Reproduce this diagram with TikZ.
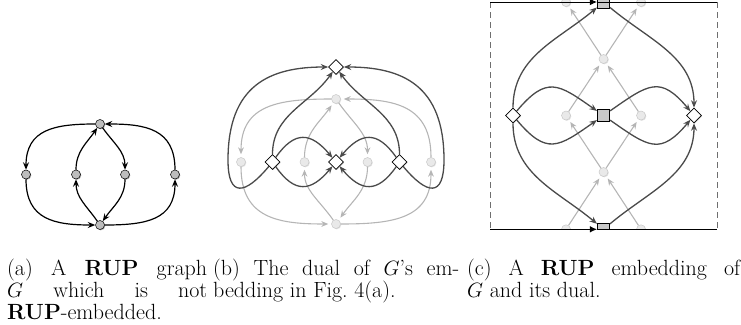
\documentclass[tikz,border=0pt]{standalone}
\usetikzlibrary{arrows.meta,shapes.geometric,shadows}
\definecolor{gcol}{HTML}{B5B5B5}
\definecolor{gfill}{HTML}{E9E9E9}
\definecolor{gbord}{HTML}{C8C8C8}
\definecolor{dcol}{HTML}{4A4A4A}
\definecolor{acol}{HTML}{BDBDBD}
\definecolor{sfill}{HTML}{C9C9C9}
\definecolor{fcol}{HTML}{6E6E6E}
\begin{document}
\begin{tikzpicture}[x=1pt,y=1pt,
  tipA/.style={-{Stealth[length=7.5pt,width=6pt,inset=2.6pt]}},
  aedge/.style={tipA, line width=1.2pt, draw=black},
  gedge/.style={-{Stealth[length=7pt,width=5.8pt,inset=2.4pt]}, line width=1.1pt, draw=gcol, color=gcol, shorten >=3pt},
  dedge/.style={tipA, line width=1.3pt, draw=dcol, color=dcol},
  avert/.style={circle, draw=black, line width=0.5pt, fill=acol, minimum size=9pt, inner sep=0pt,
    drop shadow={shadow xshift=0.8pt, shadow yshift=-0.8pt, opacity=0.35, fill=black}},
  gvert/.style={circle, draw=gbord, line width=0.5pt, fill=gfill, minimum size=9pt, inner sep=0pt,
    drop shadow={shadow xshift=0.8pt, shadow yshift=-0.8pt, opacity=0.12, fill=black}},
  dvert/.style={diamond, draw=black, line width=0.6pt, fill=white, minimum size=15pt, inner sep=0pt,
    drop shadow={shadow xshift=0.7pt, shadow yshift=-0.7pt, opacity=0.2, fill=black}},
  svert/.style={rectangle, draw=black, line width=0.6pt, fill=sfill, minimum size=12.5pt, inner sep=0pt,
    drop shadow={shadow xshift=0.7pt, shadow yshift=-0.7pt, opacity=0.2, fill=black}},
  captext/.style={font=\fontsize{22}{22.2}\selectfont, align=justify, inner sep=0pt, anchor=base west},
  framedash/.style={draw=fcol, line width=0.9pt, dash pattern=on 6pt off 4pt},
  frameline/.style={draw=black, line width=0.9pt}
]
\useasboundingbox (0,0) rectangle (741,-324);

% ---------------- (a) ----------------
\node[avert] (aT)  at (100,-124) {};
\node[avert] (aB)  at (100,-225) {};
\node[avert] (aL)  at (26,-174.5) {};
\node[avert] (aML) at (76,-174.5) {};
\node[avert] (aMR) at (125,-174.5) {};
\node[avert] (aR)  at (175,-174.5) {};
\draw[aedge] (aT) to[out=180,in=90,looseness=1.25] (aL);
\draw[aedge] (aL) to[out=-90,in=180,looseness=1.25] (aB);
\draw[aedge] (aB) to[out=0,in=-90,looseness=1.25] (aR);
\draw[aedge] (aR) to[out=90,in=0,looseness=1.25] (aT);
\draw[aedge] (aML) to[out=90,in=-125] (aT);
\draw[aedge] (aT) to[out=-55,in=90] (aMR);
\draw[aedge] (aMR) to[out=-90,in=55] (aB);
\draw[aedge] (aB) to[out=125,in=-90] (aML);

% ---------------- (b) ----------------
\node[gvert] (bT)  at (336,-99) {};
\node[gvert] (bB)  at (336,-224) {};
\node[gvert] (bL)  at (241,-162) {};
\node[gvert] (bML) at (304.5,-162) {};
\node[gvert] (bMR) at (367.5,-162) {};
\node[gvert] (bR)  at (431,-162) {};
\draw[gedge] (bT) to[out=180,in=90,looseness=1.25] (bL);
\draw[gedge] (bL) to[out=-90,in=180,looseness=1.25] (bB);
\draw[gedge] (bB) to[out=0,in=-90,looseness=1.25] (bR);
\draw[gedge] (bR) to[out=90,in=0,looseness=1.25] (bT);
\draw[gedge] (bML) to[out=90,in=-125] (bT);
\draw[gedge] (bT) to[out=-55,in=90] (bMR);
\draw[gedge] (bMR) to[out=-90,in=55] (bB);
\draw[gedge] (bB) to[out=125,in=-90] (bML);

\node[dvert] (bD0) at (336,-67) {};
\node[dvert] (bDL) at (272.5,-162) {};
\node[dvert] (bDC) at (336,-162) {};
\node[dvert] (bDR) at (399.5,-162) {};
\draw[dedge] (bDL) to[out=90,in=-125] (bD0);
\draw[dedge] (bDR) to[out=90,in=-55] (bD0);
\draw[dedge] (bDL) to[out=55,in=130,looseness=1.5] (bDC);
\draw[dedge] (bDL) to[out=-55,in=-130,looseness=1.5] (bDC);
\draw[dedge] (bDR) to[out=125,in=50,looseness=1.5] (bDC);
\draw[dedge] (bDR) to[out=-125,in=-50,looseness=1.5] (bDC);
\draw[dedge] (bDL) .. controls (245,-195) and (228,-198) .. (228,-160)
                  .. controls (228,-85) and (270,-67) .. (bD0);
\draw[dedge] (bDR) .. controls (427,-195) and (444,-198) .. (444,-160)
                  .. controls (444,-85) and (402,-67) .. (bD0);

% ---------------- (c) ----------------
\begin{scope}
\clip (490,0) rectangle (717,-229.3);
\node[gvert] (cA)  at (603.5,-59) {};
\node[gvert] (cB)  at (603.5,-172) {};
\node[gvert] (cC)  at (566,-115.5) {};
\node[gvert] (cD)  at (641,-115.5) {};
\node[gvert] (cEt) at (566,-2) {};
\node[gvert] (cFt) at (641,-2) {};
\node[gvert] (cEb) at (566,-229.3) {};
\node[gvert] (cFb) at (641,-229.3) {};
\draw[gedge] (cB) -- (cC);
\draw[gedge] (cB) -- (cD);
\draw[gedge] (cC) -- (cA);
\draw[gedge] (cD) -- (cA);
\draw[gedge] (cA) -- (cEt);
\draw[gedge] (cA) -- (cFt);
\draw[gedge] (cEb) -- (cB);
\draw[gedge] (cFb) -- (cB);

\node[svert] (cST) at (603.5,-2) {};
\node[svert] (cSM) at (603.5,-115.5) {};
\node[svert] (cSB) at (603.5,-229.3) {};
\node[dvert] (cDL) at (513,-115.5) {};
\node[dvert] (cDR) at (694,-115.5) {};
\draw[dedge] (cDL) to[out=90,in=-140] (cST);
\draw[dedge] (cST) to[out=-40,in=90] (cDR);
\draw[dedge] (cDL) to[out=-90,in=140] (cSB);
\draw[dedge] (cSB) to[out=40,in=-90] (cDR);
\draw[dedge] (cDL) to[out=50,in=145,looseness=1.5] (cSM);
\draw[dedge] (cDL) to[out=-50,in=-145,looseness=1.5] (cSM);
\draw[dedge] (cSM) to[out=35,in=130,looseness=1.5] (cDR);
\draw[dedge] (cSM) to[out=-35,in=-130,looseness=1.5] (cDR);
\end{scope}

\coordinate (TL) at (490,-2);
\coordinate (TR) at (717,-2);
\coordinate (BL) at (490,-229.3);
\coordinate (BR) at (717,-229.3);
\draw[framedash] (TL) -- (BL);
\draw[framedash] (TR) -- (BR);
\draw[frameline, -{Latex[length=7pt,width=6.5pt]}] (TL) -- (cST.west);
\draw[frameline] (cST.west) -- (TR);
\draw[frameline, -{Latex[length=7pt,width=6.5pt]}] (BL) -- (cSB.west);
\draw[frameline] (cSB.west) -- (BR);

% ---------------- captions ----------------
\node[captext, text width=200pt] (capa) at (7,-275)
  {\tolerance=10000\hbadness=10000 (a) A \textbf{RUP} graph\linebreak $G$ which is not\linebreak \textbf{RUP}-embedded.};
\node[captext, text width=246pt] (capb) at (213,-275)
  {\tolerance=10000\hbadness=10000 (b) The dual of $G$'s em-\linebreak bedding in Fig.~4(a).};
\node[captext, text width=273pt] (capc) at (467,-275)
  {\tolerance=10000\hbadness=10000 (c) A \textbf{RUP} embedding of\linebreak $G$ and its dual.};
\end{tikzpicture}
\end{document}
